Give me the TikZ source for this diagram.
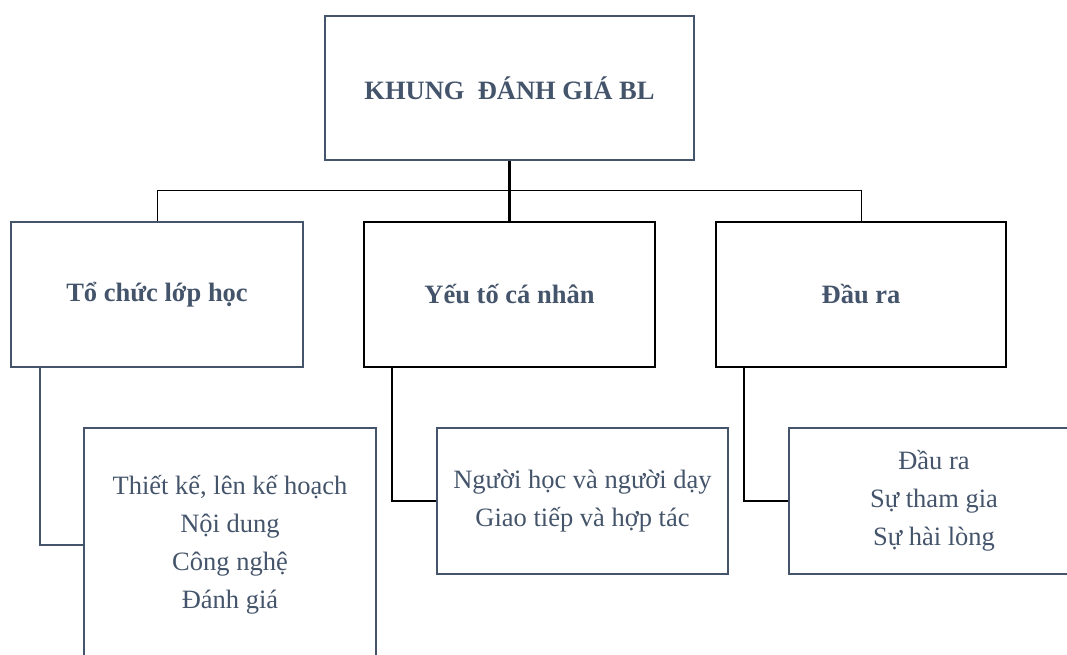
\documentclass[tikz,border=0pt]{standalone}
\usepackage{fontspec}
\setmainfont{Liberation Serif}
\usetikzlibrary{calc}
\definecolor{slate}{HTML}{44546A}
\tikzset{
  headbox/.style={draw=slate, line width=2pt, minimum width=#1, minimum height=145pt, inner sep=0pt,
    text=slate, font=\fontsize{26.5}{30}\selectfont\bfseries},
  itembox/.style={draw=slate, line width=2pt, minimum width=#1, inner sep=0pt, text=slate,
    align=center, font=\fontsize{26.5}{38}\selectfont},
  link/.style={line width=2pt}
}
\begin{document}
\begin{tikzpicture}[x=1pt,y=1pt]
			%%%%% START %%%%%
			\useasboundingbox (0,0) rectangle (1067,-655);
			\clip (0,0) rectangle (1067,-655);
			
			\node[headbox=369pt, minimum height=144pt, font=\fontsize{26.5}{30}\selectfont\bfseries] (top) at (509.5, -88) {KHUNG\ \ ĐÁNH GIÁ BL};
			
			\node[headbox=292pt] (org) at (157, -294.5) {Tổ chức lớp học};
			\node[headbox=291pt, draw=black] (pers) at (509.5, -294.5) {Yếu tố cá nhân};
			\node[headbox=290pt, draw=black] (out) at (861, -294.5) {Đầu ra};
			
			\node[itembox=292pt, minimum height=234pt] (orgitems) at (230, -545) {Thiết kế, lên kế hoạch\\Nội dung\\Công nghệ\\Đánh giá};
			\node[itembox=291pt, minimum height=146pt] (persitems) at (582.5, -501) {Người học và người dạy\\Giao tiếp và hợp tác};
			\node[itembox=290pt, minimum height=146pt] (outitems) at (934, -501) {Đầu ra\\Sự tham gia\\Sự hài lòng};
			
			\draw[line width=2.5pt] (top.south) -- (pers.north);
			\draw[line width=1pt] (org.north) -- ++(0, 31) -| (out.north);
			
			\draw[link, slate] ($(org.south west)+(30, 0)$) |- (orgitems.west);
			\draw[link] ($(pers.south west)+(29, 0)$) |- (persitems.west);
			\draw[link] ($(out.south west)+(29, 0)$) |- (outitems.west);
			%%%%% END %%%%%
\end{tikzpicture}
\end{document}
